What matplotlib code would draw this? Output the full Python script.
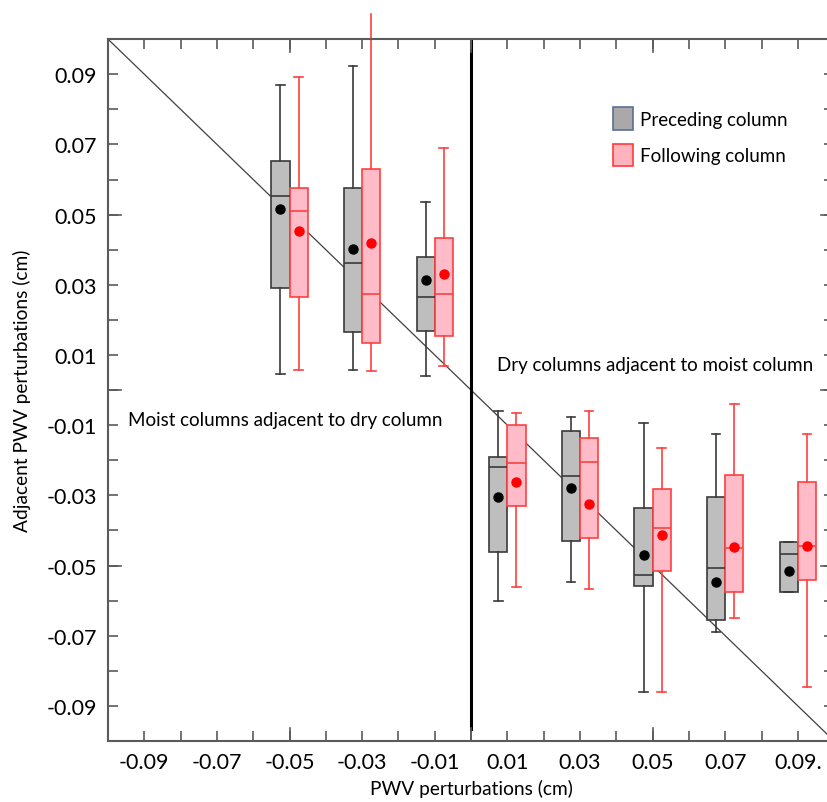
"""Adjacent-column PWV perturbations binned by the central column perturbation."""

import matplotlib
matplotlib.use("Agg")
import matplotlib.pyplot as plt
from matplotlib.patches import Patch
from matplotlib.ticker import MultipleLocator

plt.rcParams["font.family"] = ["Lato", "DejaVu Sans"]

# bin centres of the central-column PWV perturbation (cm)
bins = [-0.05, -0.03, -0.01, 0.01, 0.03, 0.05, 0.07, 0.09]

# preceding column: whisker low, q1, median, q3, whisker high, mean
prec_lo = [0.0046, 0.0057, 0.0040, -0.0602, -0.0547, -0.0861, -0.0689, -0.0576]
prec_q1 = [0.0291, 0.0166, 0.0169, -0.0461, -0.0431, -0.0557, -0.0656, -0.0576]
prec_med = [0.0553, 0.0362, 0.0266, -0.0218, -0.0245, -0.0528, -0.0506, -0.0467]
prec_q3 = [0.0652, 0.0577, 0.0378, -0.0190, -0.0116, -0.0335, -0.0306, -0.0432]
prec_hi = [0.0869, 0.0923, 0.0536, -0.0060, -0.0077, -0.0094, -0.0124, -0.0432]
prec_mean = [0.0517, 0.0401, 0.0313, -0.0306, -0.0278, -0.0469, -0.0546, -0.0515]

# following column
foll_lo = [0.0057, 0.0053, 0.0069, -0.0560, -0.0567, -0.0861, -0.0649, -0.0847]
foll_q1 = [0.0266, 0.0134, 0.0153, -0.0331, -0.0422, -0.0516, -0.0576, -0.0541]
foll_med = [0.0511, 0.0273, 0.0275, -0.0209, -0.0205, -0.0392, -0.0451, -0.0444]
foll_q3 = [0.0577, 0.0630, 0.0433, -0.0099, -0.0138, -0.0283, -0.0242, -0.0261]
foll_hi = [0.0892, 0.1071, 0.0691, -0.0066, -0.0061, -0.0164, -0.0039, -0.0124]
foll_mean = [0.0452, 0.0420, 0.0330, -0.0261, -0.0326, -0.0413, -0.0448, -0.0443]

xtick_vals = [-0.09, -0.07, -0.05, -0.03, -0.01, 0.01, 0.03, 0.05, 0.07, 0.09]
xtick_labels = ["-0.09", "-0.07", "-0.05", "-0.03", "-0.01",
                "0.01", "0.03", "0.05", "0.07", "0.09."]
ytick_vals = [0.09, 0.07, 0.05, 0.03, 0.01, -0.01, -0.03, -0.05, -0.07, -0.09]

GRAY_FILL, GRAY_EDGE = "#bebebe", "#3a3a3a"
PINK_FILL, PINK_EDGE = "#ffbcc8", "#ff4040"
SPINE = "#5a5a5a"


def stats(lo, q1, med, q3, hi):
    return [dict(whislo=a, q1=b, med=c, q3=d, whishi=e, fliers=[])
            for a, b, c, d, e in zip(lo, q1, med, q3, hi)]


def draw(ax, st, pos, means, fill, edge, dot):
    art = ax.bxp(st, positions=pos, widths=0.005, capwidths=0.0024,
                 patch_artist=True, showfliers=False, manage_ticks=False,
                 boxprops=dict(facecolor=fill, edgecolor=edge, linewidth=1.2),
                 medianprops=dict(color=edge, linewidth=1.2),
                 whiskerprops=dict(color=edge, linewidth=1.2),
                 capprops=dict(color=edge, linewidth=1.2))
    ax.plot(pos, means, "o", color=dot, ms=6.5, zorder=5)
    return art


fig = plt.figure(figsize=(8.27, 8.03), dpi=100)
ax = fig.add_axes([0.1306, 0.076, 0.878, 0.874])
ax.set_xlim(-0.1, 0.1)
ax.set_ylim(-0.1, 0.1)

# 1:1 reference line
ax.plot([-0.1, 0.1], [0.1, -0.1], color="#404040", lw=0.9, zorder=1)
# moist / dry divide
ax.plot([0, 0], [0.1, -0.0965], color="black", lw=2.2, zorder=1)

draw(ax, stats(prec_lo, prec_q1, prec_med, prec_q3, prec_hi),
     [b - 0.0025 for b in bins], prec_mean, GRAY_FILL, GRAY_EDGE, "black")
fa = draw(ax, stats(foll_lo, foll_q1, foll_med, foll_q3, foll_hi),
          [b + 0.0025 for b in bins], foll_mean, PINK_FILL, PINK_EDGE, "red")
# the -0.03 following-column whisker runs past the top of the frame
fa["whiskers"][3].set_clip_on(False)
fa["caps"][3].set_visible(False)

ax.text(-0.0945, -0.0085, "Moist columns adjacent to dry column",
        fontsize=13.5, va="center")
ax.text(0.0072, 0.0072, "Dry columns adjacent to moist column",
        fontsize=13.5, va="center")

ax.legend(handles=[Patch(facecolor="#aaa8a8", edgecolor="#5a6e9a", lw=1.2,
                         label="Preceding column"),
                   Patch(facecolor="#ffb3bd", edgecolor="#ff3b3b", lw=1.2,
                         label="Following column")],
          loc="upper left", bbox_to_anchor=(0.672, 0.927), frameon=False,
          fontsize=13.5, handlelength=1.05, handleheight=1.45, labelspacing=0.75,
          handletextpad=0.4)

ax.set_xticks(xtick_vals)
ax.set_xticklabels(xtick_labels)
ax.set_yticks(ytick_vals)
ax.set_yticklabels([f"{v:.2f}" for v in ytick_vals])
ax.xaxis.set_minor_locator(MultipleLocator(0.01))
ax.yaxis.set_minor_locator(MultipleLocator(0.01))
ax.tick_params(which="both", direction="in", top=True, right=True,
               color=SPINE, width=1.2, labelsize=15.5, pad=8)
ax.tick_params(which="both", length=7)
# longer ticks at every 0.05
for v in (-0.05, 0.0, 0.05):
    ax.plot([v, v], [-0.1, -0.1 + 0.0037], color=SPINE, lw=1.2, zorder=2)
    ax.plot([v, v], [0.1, 0.1 - 0.0037], color=SPINE, lw=1.2, zorder=2)
    ax.plot([-0.1, -0.1 + 0.0037], [v, v], color=SPINE, lw=1.2, zorder=2)
    ax.plot([0.1, 0.1 - 0.0037], [v, v], color=SPINE, lw=1.2, zorder=2)

for s in ax.spines.values():
    s.set_color(SPINE)
    s.set_linewidth(1.5)

ax.set_xlabel("PWV perturbations (cm)", fontsize=13.8, labelpad=5)
ax.set_ylabel("Adjacent PWV perturbations (cm)", fontsize=13.8, labelpad=11)

fig.savefig("out.png", dpi=100)
